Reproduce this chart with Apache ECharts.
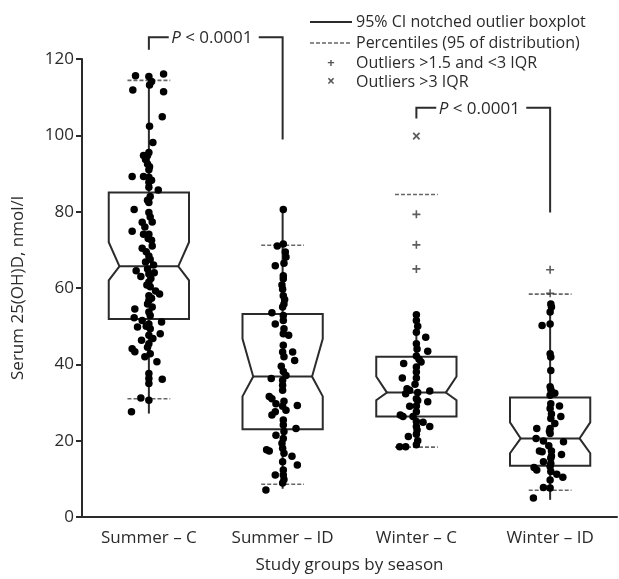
<!DOCTYPE html>
<html>
<head>
<meta charset="utf-8">
<script src="https://cdn.jsdelivr.net/npm/echarts@6/dist/echarts.min.js"></script>
<style>
  html, body { margin: 0; padding: 0; background: #fff; }
  #chart { width: 619px; height: 579px; }
</style>
</head>
<body>
<div id="chart"></div>
<script>
// groups on the x axis
const categories = ['Summer – C', 'Summer – ID', 'Winter – C', 'Winter – ID'];
const yTicks = [0, 20, 40, 60, 80, 100, 120];

// notched boxes: [group, q1, notch low, median, notch high, q3]
const boxes = [
    [0, 51.9, 62.0, 65.7, 72.0, 85.0],
    [1, 23.0, 31.6, 36.8, 46.7, 53.2],
    [2, 26.3, 30.6, 32.6, 36.8, 42.0],
    [3, 13.4, 16.7, 20.6, 24.8, 31.3]
];
// whisker ends: [group, low, high]
const whiskers = [
    [0, 27.1, 115.8],
    [1, 7.4, 80.6],
    [2, 18.3, 53.2],
    [3, 4.5, 56.0]
];
// percentile lines (dashed): [group, low, high]
const percentiles = [
    [0, 31.0, 114.4],
    [1, 8.6, 71.2],
    [2, 18.3, 84.5],
    [3, 7.0, 58.4]
];
// outliers: [group, value]
const outliersMild = [[2, 79.3], [2, 71.3], [2, 65.0], [3, 64.8], [3, 58.6]];
const outliersFar = [[2, 99.8]];

// p-value brackets: [group a, group b, top, drop a, drop b]
const brackets = [
    [0, 1, 125.7, 122.4, 98.9],
    [2, 3, 107.2, 104.4, 79.8]
];
const pLabel = 'P';
const pText = ' < 0.0001';

// individual points: [jitter (fraction of group width), value]
const summerC = [
    [-0.10, 115.6], [0, 115.4], [0.11, 116.1], [0.02, 114.1], [0.005, 113.2], [-0.12, 111.9], [0.11, 111.4],
    [0.10, 104.9], [0.005, 102.4], [0.03, 98.1], [-0.04, 94.7], [-0.01, 94.7], [-0.025, 93.7], [0, 95.5],
    [0, 91.0], [-0.125, 89.2], [-0.04, 89.2], [0, 89.0], [0, 87.7], [0.07, 85.7], [0, 86.4], [-0.11, 80.6],
    [0, 82.4], [0, 79.8], [0.025, 77.3], [-0.05, 77.2], [-0.125, 74.9], [-0.04, 74.1], [0, 74.1], [0.025, 71.0],
    [-0.05, 70.4], [0, 68.4], [-0.025, 66.8], [-0.095, 64.5], [-0.06, 63.0], [0, 63.7], [0, 61.6], [0.01, 60.3],
    [0.05, 59.2], [0.08, 58.4], [0, 58.0], [0, 56.7], [0.025, 55.0], [-0.105, 54.5], [0, 53.7], [-0.11, 52.2],
    [-0.05, 51.5], [0.095, 51.1], [0, 50.6], [-0.085, 49.8], [0.01, 49.3], [0.085, 48.0], [0, 47.6], [-0.055, 46.3],
    [0, 45.4], [-0.125, 44.1], [-0.105, 43.3], [0.01, 42.8], [-0.03, 42.0], [0.06, 40.7], [0, 37.6], [0, 36.3],
    [0.10, 36.1], [0, 35.0], [-0.06, 31.2], [0, 30.6], [-0.13, 27.6],
    [0.01, 84.0], [-0.01, 83.0], [0.02, 72.5], [-0.02, 69.5], [0.01, 67.5], [-0.01, 65.0], [0.015, 62.5],
    [-0.015, 60.8], [0.02, 57.3], [-0.01, 55.8], [0.01, 52.8], [-0.02, 50.0], [0.03, 46.8], [-0.01, 44.5],
    [0.005, 91.8], [-0.01, 92.5], [0.02, 88.2], [-0.03, 76.0], [0.01, 78.6], [-0.005, 73.0], [0.035, 66.0], [0.04, 64.0]
];
const summerID = [
    [0.005, 80.6], [-0.04, 71.0], [0.005, 71.5], [0.02, 69.4], [0.025, 68.1], [-0.055, 65.8], [0.005, 63.2],
    [0.005, 62.4], [0, 59.7], [0.005, 58.0], [0.01, 55.8], [0, 55.0], [-0.08, 53.5], [0.005, 52.8], [0.005, 51.5],
    [-0.055, 50.6], [0.01, 49.3], [0.005, 48.0], [0.045, 47.6], [0, 43.2], [0.075, 43.2], [0.01, 42.0], [0.09, 41.0],
    [0.005, 38.1], [0.025, 37.1], [-0.085, 36.3], [0, 35.8], [0, 34.5], [0, 33.2], [-0.10, 31.6], [-0.08, 31.0],
    [-0.05, 29.7], [0, 29.0], [0.025, 28.0], [0.11, 29.2], [-0.055, 27.6], [-0.08, 26.7], [0.005, 25.4],
    [0.005, 24.1], [0.01, 22.4], [0.10, 23.2], [-0.05, 21.4], [0.005, 20.6], [-0.12, 17.6], [-0.10, 17.3],
    [0, 18.0], [0.01, 16.7], [0.07, 15.9], [0, 14.5], [0.11, 13.6], [0.005, 12.3], [0.005, 11.0], [-0.055, 11.0],
    [0, 8.9], [-0.125, 7.1],
    [0.01, 66.5], [-0.005, 60.8], [0.015, 57.0], [0.005, 45.0], [-0.01, 39.5], [0.01, 30.3], [-0.005, 19.3], [0.01, 9.8]
];
const winterC = [
    [0, 53.0], [0, 51.5], [0, 48.4], [0.07, 47.1], [0, 45.4], [0.085, 43.4], [0, 42.2], [0.02, 41.3],
    [-0.095, 40.2], [0.035, 40.6], [0, 39.3], [0, 38.0], [-0.105, 36.4], [0, 36.4], [-0.07, 33.6], [-0.05, 33.2],
    [0.01, 32.6], [0.10, 33.0], [-0.08, 32.3], [0, 31.0], [-0.05, 29.0], [0, 29.1], [0.085, 30.2], [0, 27.6],
    [-0.12, 26.7], [-0.10, 26.3], [-0.025, 26.3], [0, 25.0], [0.05, 24.8], [0, 23.7], [0.10, 23.7], [0, 21.7],
    [-0.06, 21.1], [0, 18.9], [-0.125, 18.4], [-0.08, 18.4],
    [0.01, 50.0], [0.005, 44.0], [-0.01, 34.8], [0.01, 30.5], [0.005, 22.8], [0.01, 20.0]
];
const winterID = [
    [0.005, 55.8], [0.01, 55.0], [0, 53.7], [-0.06, 50.2], [0, 50.6], [0, 42.8], [0.005, 41.9], [0.005, 38.4],
    [0, 34.1], [0.01, 32.8], [0.035, 32.4], [0, 31.9], [0.005, 29.7], [0.07, 29.1], [0, 28.4], [0.08, 26.3],
    [0.005, 25.8], [0.035, 24.5], [-0.10, 23.2], [0, 23.2], [0, 21.9], [-0.105, 20.6], [-0.05, 19.9], [0.10, 19.7],
    [-0.01, 18.7], [-0.08, 17.3], [-0.06, 17.1], [0.01, 17.3], [0.085, 16.4], [0.005, 15.4], [-0.05, 14.5],
    [-0.12, 13.0], [-0.10, 12.3], [0, 13.2], [0.005, 11.9], [0.05, 11.2], [0.095, 10.4], [0, 9.7], [-0.05, 7.7],
    [0, 7.6], [-0.125, 5.0],
    [0.005, 33.5], [0.01, 27.0], [-0.005, 22.5], [0.01, 16.0], [0.005, 14.0]
];
const groupPoints = [summerC, summerID, winterC, winterID];

const legendLabels = [
    '95% CI notched outlier boxplot',
    'Percentiles (95 of distribution)',
    'Outliers >1.5 and <3 IQR',
    'Outliers >3 IQR'
];

document.addEventListener('DOMContentLoaded', function () {
    const myChart = echarts.init(document.getElementById('chart'));
    const ink = '#2b2b2b';
    const font = '"Open Sans", "Noto Sans", sans-serif';
    const plusPath = 'path://M4,0H6V4H10V6H6V10H4V6H0V4H4Z';

    // jittered points -> hidden value axis that lines up with the categories
    const dots = [];
    groupPoints.forEach(function (pts, g) {
        pts.forEach(function (p) {
            dots.push([g + p[0], p[1]]);
        });
    });

    function renderBox(params, api) {
        const g = api.value(0);
        const band = api.size([1, 0])[0];
        const w = band * 0.30, n = band * 0.22;
        const cx = api.coord([g, 0])[0];
        const y = function (v) { return api.coord([g, v])[1]; };
        const q1 = y(api.value(1)), nl = y(api.value(2)), md = y(api.value(3)),
            nh = y(api.value(4)), q3 = y(api.value(5));
        const style = { stroke: ink, lineWidth: 2, fill: null };
        return {
            type: 'group',
            children: [
                {
                    type: 'polygon',
                    shape: {
                        points: [
                            [cx - w, q3], [cx + w, q3], [cx + w, nh], [cx + n, md], [cx + w, nl],
                            [cx + w, q1], [cx - w, q1], [cx - w, nl], [cx - n, md], [cx - w, nh]
                        ]
                    },
                    style: style
                },
                { type: 'line', shape: { x1: cx - n, y1: md, x2: cx + n, y2: md }, style: style }
            ]
        };
    }

    function renderWhisker(params, api) {
        const g = api.value(0);
        const cx = api.coord([g, 0])[0];
        const box = boxes[g];
        const style = { stroke: ink, lineWidth: 2 };
        return {
            type: 'group',
            children: [
                { type: 'line', shape: { x1: cx, y1: api.coord([g, box[5]])[1], x2: cx, y2: api.coord([g, api.value(2)])[1] }, style: style },
                { type: 'line', shape: { x1: cx, y1: api.coord([g, box[1]])[1], x2: cx, y2: api.coord([g, api.value(1)])[1] }, style: style }
            ]
        };
    }

    function renderPercentile(params, api) {
        const g = api.value(0);
        const half = api.size([1, 0])[0] * 0.16;
        const cx = api.coord([g, 0])[0];
        const style = { stroke: '#666', lineWidth: 1.6, lineDash: [4, 2] };
        const lo = api.coord([g, api.value(1)])[1];
        const hi = api.coord([g, api.value(2)])[1];
        return {
            type: 'group',
            children: [
                { type: 'line', shape: { x1: cx - half, y1: lo, x2: cx + half, y2: lo }, style: style },
                { type: 'line', shape: { x1: cx - half, y1: hi, x2: cx + half, y2: hi }, style: style }
            ]
        };
    }

    function renderBracket(params, api) {
        const a = api.value(0), b = api.value(1);
        const xa = api.coord([a, 0])[0], xb = api.coord([b, 0])[0];
        const top = api.coord([a, api.value(2)])[1];
        const da = api.coord([a, api.value(3)])[1];
        const db = api.coord([b, api.value(4)])[1];
        const mid = (xa + xb) / 2;
        const style = { stroke: ink, lineWidth: 2, fill: null };
        return {
            type: 'group',
            children: [
                { type: 'polyline', shape: { points: [[xa, da], [xa, top], [mid - 47, top]] }, style: style },
                { type: 'polyline', shape: { points: [[mid + 43, top], [xb, top], [xb, db]] }, style: style },
                {
                    type: 'text',
                    x: mid - 4, y: top + 1,
                    style: {
                        text: '{i|' + pLabel + '}' + pText,
                        align: 'center', verticalAlign: 'middle',
                        fontFamily: font, fontSize: 17, fill: ink,
                        rich: { i: { fontStyle: 'italic', fontFamily: font, fontSize: 17, fill: ink } }
                    }
                }
            ]
        };
    }

    // legend drawn by hand (line samples + marker samples)
    const lgX = 356, lgY = [22, 43, 63, 82];
    const legendGraphics = [
        { type: 'line', shape: { x1: 310, y1: lgY[0], x2: 352, y2: lgY[0] }, style: { stroke: ink, lineWidth: 2 } },
        { type: 'line', shape: { x1: 310, y1: lgY[1], x2: 352, y2: lgY[1] }, style: { stroke: '#666', lineWidth: 1.6, lineDash: [4, 2] } },
        { type: 'text', x: 331, y: lgY[2], style: { text: '+', fontSize: 13, fontWeight: 'bold', fill: '#555', align: 'center', verticalAlign: 'middle', fontFamily: font } },
        { type: 'text', x: 331, y: lgY[3], style: { text: '×', fontSize: 14, fontWeight: 'bold', fill: '#555', align: 'center', verticalAlign: 'middle', fontFamily: font } }
    ];
    legendLabels.forEach(function (t, i) {
        legendGraphics.push({
            type: 'text', x: lgX, y: lgY[i],
            style: { text: t, fontSize: 16, fill: ink, fontFamily: font, verticalAlign: 'middle' }
        });
    });

    const option = {
        animation: false,
        backgroundColor: '#fff',
        grid: { left: 82, right: 2, top: 59, bottom: 60 },
        xAxis: [
            {
                type: 'category',
                data: categories,
                name: 'Study groups by season',
                nameLocation: 'middle',
                nameGap: 40,
                nameTextStyle: { fontSize: 17, color: ink, fontFamily: font },
                axisLine: { onZero: false, lineStyle: { color: ink, width: 2 } },
                axisTick: { show: false },
                axisLabel: { fontSize: 17, color: ink, fontFamily: font, margin: 13 }
            },
            { type: 'value', min: -0.5, max: 3.5, show: false }
        ],
        yAxis: {
            type: 'value',
            min: yTicks[0],
            max: yTicks[yTicks.length - 1],
            interval: 20,
            name: 'Serum 25(OH)D, nmol/l',
            nameLocation: 'middle',
            nameGap: 55,
            nameTextStyle: { fontSize: 17, color: ink, fontFamily: font },
            axisLine: { show: true, onZero: false, lineStyle: { color: ink, width: 2 } },
            axisTick: { show: true, length: 6, lineStyle: { color: ink, width: 2 } },
            axisLabel: { fontSize: 17, color: ink, fontFamily: font, margin: 8 },
            splitLine: { show: false }
        },
        graphic: legendGraphics,
        series: [
            { type: 'custom', xAxisIndex: 0, renderItem: renderWhisker, data: whiskers, z: 2 },
            { type: 'custom', xAxisIndex: 0, renderItem: renderBox, data: boxes, z: 3 },
            { type: 'custom', xAxisIndex: 0, renderItem: renderPercentile, data: percentiles, z: 3 },
            { type: 'custom', xAxisIndex: 0, renderItem: renderBracket, data: brackets, clip: false, z: 3 },
            {
                type: 'scatter', xAxisIndex: 1, data: dots, symbolSize: 7.5, z: 5,
                itemStyle: { color: '#000', opacity: 1 }
            },
            {
                type: 'scatter', xAxisIndex: 0, data: outliersMild, symbol: plusPath, symbolSize: 8, z: 5,
                itemStyle: { color: '#333' }
            },
            {
                type: 'scatter', xAxisIndex: 0, data: outliersFar, symbol: plusPath, symbolSize: 9, symbolRotate: 45, z: 5,
                itemStyle: { color: '#333' }
            }
        ]
    };

    myChart.setOption(option);
});
</script>
</body>
</html>
